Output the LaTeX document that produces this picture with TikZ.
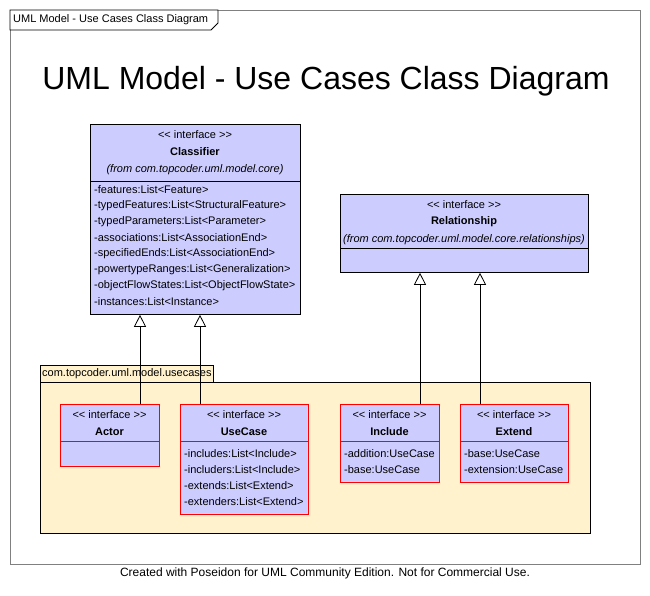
\documentclass[tikz,border=0pt]{standalone}
\usepackage{fontspec}
\setmainfont{Liberation Sans}[Ligatures=NoCommon]
\usetikzlibrary{arrows.meta,calc}
\definecolor{boxfill}{HTML}{CCCCFF}
\definecolor{pkgfill}{HTML}{FFF2CC}
\definecolor{framegray}{HTML}{808080}
\newcommand{\stereo}{<{}< interface >{}>}
\tikzset{
  cls/.style={draw=black, fill=boxfill, line width=0.8pt, anchor=north west, inner sep=0pt},
  rcls/.style={draw=red, fill=boxfill, line width=0.8pt, anchor=north west, inner sep=0pt},
  txt/.style={font=\fontsize{11}{12}\selectfont, inner sep=0pt},
  bold/.style={font=\fontsize{11}{12}\selectfont\bfseries, inner sep=0pt},
  ital/.style={font=\fontsize{11}{12}\selectfont\itshape, inner sep=0pt},
  attr/.style={font=\fontsize{11}{12}\selectfont, inner sep=0pt, anchor=west},
  gen/.style={line width=0.8pt, -{Triangle[open, length=12pt, width=12pt, line width=0.8pt]}},
}
\begin{document}
\begin{tikzpicture}[x=1pt,y=-1pt]
\useasboundingbox (0,0) rectangle (650,596);
% outer frame
\node[draw=framegray, line width=0.8pt, minimum width=630pt, minimum height=554pt, anchor=north west, inner sep=0pt] (frame) at (10,10) {};
\draw[fill=white, line width=0.8pt] (10,10) -- (218,10) -- (218,23) -- (211,30) -- (10,30) -- cycle;
\node[txt, anchor=west] (frametitle) at (13,19.5) {UML Model - Use Cases Class Diagram};
% big title
\node[font=\fontsize{32}{36}\selectfont, inner sep=0pt] (title) at (326,81) {UML Model - Use Cases Class Diagram};
% Classifier
\node[cls, minimum width=210pt, minimum height=190pt] (classifier) at (90,124) {};
\draw[line width=0.8pt] ([yshift=-57pt]classifier.north west) -- ([yshift=-57pt]classifier.north east);
\node[txt] (c1) at (195,135) {\stereo};
\node[bold] (c2) at (195,152) {Classifier};
\node[ital] (c3) at (195,170) {(from com.topcoder.uml.model.core)};
\node[attr] (ca1) at (94,190) {-features:List<Feature>};
\node[attr] (ca2) at (94,206) {-typedFeatures:List<StructuralFeature>};
\node[attr] (ca3) at (94,222) {-typedParameters:List<Parameter>};
\node[attr] (ca4) at (94,238) {-associations:List<AssociationEnd>};
\node[attr] (ca5) at (94,254) {-specifiedEnds:List<AssociationEnd>};
\node[attr] (ca6) at (94,270) {-powertypeRanges:List<Generalization>};
\node[attr] (ca7) at (94,286) {-objectFlowStates:List<ObjectFlowState>};
\node[attr] (ca8) at (94,302) {-instances:List<Instance>};
% Relationship
\node[cls, minimum width=248pt, minimum height=78pt] (relationship) at (340,194) {};
\draw[line width=0.8pt] ([yshift=-54pt]relationship.north west) -- ([yshift=-54pt]relationship.north east);
\node[txt] (r1) at (464,205) {\stereo};
\node[bold] (r2) at (464,222) {Relationship};
\node[ital] (r3) at (464,240) {(from com.topcoder.uml.model.core.relationships)};
% package
\node[draw=black, fill=pkgfill, line width=0.8pt, minimum width=173pt, minimum height=17pt, anchor=north west, inner sep=0pt] (pkgtab) at (40,365) {};
\node[draw=black, fill=pkgfill, line width=0.8pt, minimum width=550pt, minimum height=151pt, anchor=north west, inner sep=0pt] (pkg) at (40,382) {};
\node[txt, anchor=west] (pkgname) at (42,373.5) {com.topcoder.uml.model.usecases};
% Actor
\node[rcls, minimum width=99pt, minimum height=62pt] (actor) at (60,404) {};
\draw[red, line width=0.8pt] ([yshift=-37pt]actor.north west) -- ([yshift=-37pt]actor.north east);
\node[txt] (a1) at (109.5,415) {\stereo};
\node[bold] (a2) at (109.5,432) {Actor};
% UseCase
\node[rcls, minimum width=128pt, minimum height=110pt] (usecase) at (180,404) {};
\draw[red, line width=0.8pt] ([yshift=-37pt]usecase.north west) -- ([yshift=-37pt]usecase.north east);
\node[txt] (u1) at (244,415) {\stereo};
\node[bold] (u2) at (244,432) {UseCase};
\node[attr] (ua1) at (184,454) {-includes:List<Include>};
\node[attr] (ua2) at (184,470) {-includers:List<Include>};
\node[attr] (ua3) at (184,486) {-extends:List<Extend>};
\node[attr] (ua4) at (184,502) {-extenders:List<Extend>};
% Include
\node[rcls, minimum width=99pt, minimum height=78pt] (include) at (340,404) {};
\draw[red, line width=0.8pt] ([yshift=-37pt]include.north west) -- ([yshift=-37pt]include.north east);
\node[txt] (i1) at (389.5,415) {\stereo};
\node[bold] (i2) at (389.5,432) {Include};
\node[attr] (ia1) at (344,454) {-addition:UseCase};
\node[attr] (ia2) at (344,470) {-base:UseCase};
% Extend
\node[rcls, minimum width=108pt, minimum height=78pt] (extend) at (460,404) {};
\draw[red, line width=0.8pt] ([yshift=-37pt]extend.north west) -- ([yshift=-37pt]extend.north east);
\node[txt] (e1) at (514,415) {\stereo};
\node[bold] (e2) at (514,432) {Extend};
\node[attr] (ea1) at (464,454) {-base:UseCase};
\node[attr] (ea2) at (464,470) {-extension:UseCase};
% generalizations
\draw[gen] ([xshift=80pt]actor.north west) -- ([xshift=50pt]classifier.south west);
\draw[gen] ([xshift=20pt]usecase.north west) -- ([xshift=110pt]classifier.south west);
\draw[gen] ([xshift=80pt]include.north west) -- ([xshift=80pt]relationship.south west);
\draw[gen] ([xshift=20pt]extend.north west) -- ([xshift=140pt]relationship.south west);
% footer
\node[font=\fontsize{12}{14}\selectfont, inner sep=0pt] (footer) at (325,573) {Created with Poseidon for UML Community Edition. Not for Commercial Use.};
\end{tikzpicture}
\end{document}
